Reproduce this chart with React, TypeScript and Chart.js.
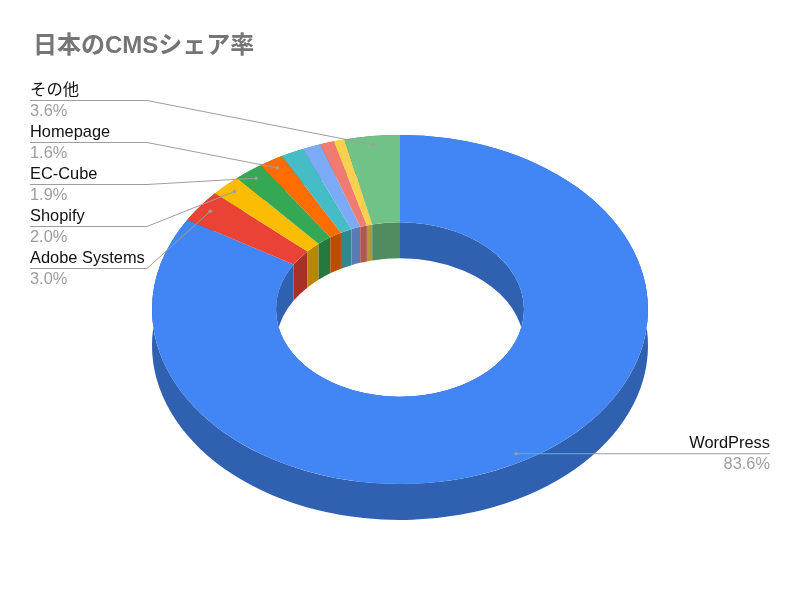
import { useEffect, useRef } from "react";
import { Chart, registerables, type Plugin } from "chart.js";

Chart.register(...registerables);

const TITLE = "日本のCMSシェア率";
// four small slices carry no label in the picture
const LABELS = ["WordPress", "Adobe Systems", "Shopify", "EC-Cube", "Homepage", "", "", "", "", "その他"];
const VALUES = [83.6, 3.0, 2.0, 1.9, 1.6, 1.5, 1.2, 0.9, 0.7, 3.6];
const COLORS = ["#4285f4", "#ea4335", "#fbbc04", "#34a853", "#ff6d01", "#46bdc6", "#7baaf7", "#f07b72", "#fcd04f", "#71c287"];

const SQUASH = 0.7036; // tilt of the ring
const DEPTH = 36; // height of the ring wall
const FONT = '"Liberation Sans", "Noto Sans CJK JP", sans-serif';
const LEFT_ROW_TOP = 100;
const LEFT_ROW_STEP = 42.1;
const ELBOW_X = 147;

function darken(hex: string, f = 0.72) {
  const n = parseInt(hex.slice(1), 16);
  const c = [(n >> 16) & 255, (n >> 8) & 255, n & 255].map((x) => Math.round(x * f));
  return `rgb(${c[0]},${c[1]},${c[2]})`;
}

// walls of the ring go under the top face, so they are painted first
const walls: Plugin<"doughnut"> = {
  id: "walls",
  beforeDatasetsDraw(chart) {
    const { ctx } = chart;
    const arcs = chart.getDatasetMeta(0).data as any[];
    const wall = (a: any, r: number, color: string) => {
      ctx.beginPath();
      ctx.ellipse(a.x, a.y, r, r * SQUASH, 0, a.startAngle, a.endAngle, false);
      ctx.ellipse(a.x, a.y + DEPTH, r, r * SQUASH, 0, a.endAngle, a.startAngle, true);
      ctx.closePath();
      ctx.fillStyle = color;
      ctx.fill();
    };
    arcs.forEach((a, i) => {
      wall(a, a.outerRadius, darken(COLORS[i]));
      wall(a, a.innerRadius, darken(COLORS[i]));
    });
  },
  beforeDatasetDraw(chart) {
    const { ctx } = chart;
    const a = chart.getDatasetMeta(0).data[0] as any;
    ctx.save();
    ctx.translate(a.x, a.y);
    ctx.scale(1, SQUASH);
    ctx.translate(-a.x, -a.y);
  },
  afterDatasetDraw(chart) {
    chart.ctx.restore();
  },
};

const callouts: Plugin<"doughnut"> = {
  id: "callouts",
  afterDraw(chart) {
    const { ctx } = chart;
    const arcs = chart.getDatasetMeta(0).data as any[];
    const anchor = (i: number) => {
      const a = arcs[i];
      const mid = (a.startAngle + a.endAngle) / 2;
      const r = a.outerRadius * 0.95;
      return { x: a.x + Math.cos(mid) * r, y: a.y + Math.sin(mid) * r * SQUASH };
    };
    const label = (i: number, x: number, lineY: number, align: CanvasTextAlign) => {
      ctx.textAlign = align;
      ctx.textBaseline = "middle";
      ctx.font = `16.4px ${FONT}`;
      ctx.fillStyle = "#111111";
      ctx.fillText(LABELS[i], x, lineY - 10.5);
      ctx.fillStyle = "#9e9e9e";
      ctx.fillText(`${VALUES[i].toFixed(1)}%`, x, lineY + 11);
    };
    const dot = (p: { x: number; y: number }) => {
      ctx.beginPath();
      ctx.arc(p.x, p.y, 1.8, 0, Math.PI * 2);
      ctx.fillStyle = "#9e9e9e";
      ctx.fill();
    };

    ctx.save();
    ctx.lineWidth = 1;
    ctx.strokeStyle = "#9e9e9e";
    let row = 0;
    for (let i = LABELS.length - 1; i > 0; i--) {
      if (!LABELS[i]) continue;
      const y = Math.round(LEFT_ROW_TOP + row * LEFT_ROW_STEP) + 0.5;
      const p = anchor(i);
      ctx.beginPath();
      ctx.moveTo(30, y);
      ctx.lineTo(ELBOW_X, y);
      ctx.lineTo(p.x, p.y);
      ctx.stroke();
      dot(p);
      label(i, 30, y, "left");
      row++;
    }
    const p = anchor(0);
    ctx.beginPath();
    ctx.moveTo(p.x, p.y);
    ctx.lineTo(770, p.y);
    ctx.stroke();
    dot(p);
    label(0, 770, p.y, "right");
    ctx.restore();
  },
};

export default function App() {
  const ref = useRef<HTMLCanvasElement>(null);
  useEffect(() => {
    if (!ref.current) return;
    const chart = new Chart(ref.current, {
      type: "doughnut",
      data: {
        labels: LABELS,
        datasets: [{ data: VALUES, backgroundColor: COLORS, borderWidth: 0, radius: 248, cutout: "50%", clip: false } as any],
      },
      options: {
        responsive: false,
        animation: false,
        events: [],
        layout: { padding: { left: 33, right: 33, top: 31.6, bottom: 48.4 } },
        plugins: {
          legend: { display: false },
          tooltip: { enabled: false },
          title: {
            display: true,
            text: TITLE,
            align: "start",
            color: "#757575",
            padding: 0,
            font: { family: FONT, size: 24, weight: "bold", lineHeight: 1.2 },
          },
        },
      },
      plugins: [walls, callouts],
    });
    return () => chart.destroy();
  }, []);
  return (
    <div style={{ position: "absolute", left: 0, top: 0, width: 800, height: 607, background: "#ffffff" }}>
      <canvas ref={ref} width={800} height={607} style={{ display: "block" }} />
    </div>
  );
}
